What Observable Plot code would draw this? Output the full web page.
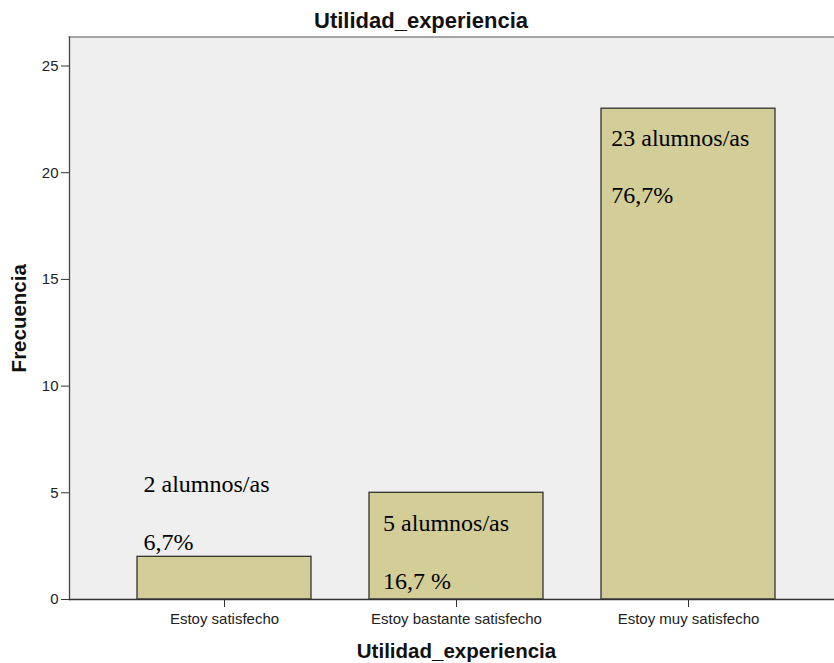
<!DOCTYPE html>
<html>
<head>
<meta charset="utf-8">
<script src="https://cdn.jsdelivr.net/npm/d3@7"></script>
<script src="https://cdn.jsdelivr.net/npm/@observablehq/plot@0.6"></script>
<style>
  html, body { margin: 0; padding: 0; background: #fff; }
  body { position: relative; width: 834px; height: 663px; overflow: hidden; }
  #title { position: absolute; left: 8px; width: 826px; top: 9px; line-height: 24px; text-align: center;
    font-family: Arial, "Liberation Sans", sans-serif; font-weight: bold; font-size: 22px; color: #111; }
  #chart { position: absolute; left: 0; top: 35px; }
</style>
</head>
<body>
<div id="title"></div>
<div id="chart"></div>
<script>
const chartTitle = "Utilidad_experiencia";
const xTitle = "Utilidad_experiencia";
const yTitle = "Frecuencia";
const categories = ["Estoy satisfecho", "Estoy bastante satisfecho", "Estoy muy satisfecho"];
const frequencies = [2, 5, 23];
const yTicks = [0, 5, 10, 15, 20, 25];
// annotation text boxes (category, text, vertical position in frequency units)
const annotCategory = ["Estoy satisfecho", "Estoy satisfecho", "Estoy bastante satisfecho", "Estoy bastante satisfecho", "Estoy muy satisfecho", "Estoy muy satisfecho"];
const annotText = ["2 alumnos/as", "6,7%", "5 alumnos/as", "16,7 %", "23 alumnos/as", "76,7%"];
const annotValue = [5.03, 2.33, 3.19, 0.47, 21.25, 18.6];

document.getElementById("title").textContent = chartTitle;

const bars = categories.map((c, i) => ({category: c, value: frequencies[i]}));
const annots = annotText.map((t, i) => ({category: annotCategory[i], text: t, value: annotValue[i]}));

const sans = "Arial, 'Liberation Sans', sans-serif";
const serif = "'Times New Roman', 'Liberation Serif', serif";

const annotMark = (cat, dx) => Plot.text(annots.filter(d => d.category === cat), {
  x: "category", y: "value", text: "text", dx, textAnchor: "start", lineAnchor: "bottom",
  fontFamily: serif, fontSize: 24, fill: "#000"
});

const plot = Plot.plot({
  width: 834,
  height: 628,
  marginLeft: 69,
  marginRight: 0,
  marginTop: 1.5,
  marginBottom: 64,
  style: {fontFamily: sans, background: "transparent", overflow: "visible"},
  x: {domain: categories, range: [108.1, 804.9], paddingInner: 0.249, paddingOuter: 0.1245, label: null},
  y: {domain: [0, 26.36], label: null},
  marks: [
    Plot.frame({fill: "#efefef", stroke: null}),
    Plot.barY(bars, {x: "category", y: "value", fill: "#d3ce98", stroke: "#333", strokeWidth: 1.3}),
    Plot.frame({anchor: "top", stroke: "#8a8a8a", strokeWidth: 1.6}),
    Plot.frame({anchor: "left", stroke: "#444", strokeWidth: 1.3}),
    Plot.frame({anchor: "bottom", stroke: "#333", strokeWidth: 1.3}),
    Plot.axisY({ticks: yTicks, tickSize: 8, tickPadding: 3, fontSize: 15, fill: "#222", stroke: "#333", label: null}),
    Plot.axisX({tickSize: 8, tickPadding: 6, fontSize: 15, fill: "#222", stroke: "#333", label: null}),
    annotMark(categories[0], -81),
    annotMark(categories[1], -73.4),
    annotMark(categories[2], -77.2),
    Plot.text([xTitle], {frameAnchor: "bottom", dx: 4.5, dy: 58, text: d => d, lineAnchor: "bottom", textAnchor: "middle",
      fontFamily: sans, fontWeight: "bold", fontSize: 20.5, fill: "#111"}),
    Plot.text([yTitle], {frameAnchor: "left", dx: -44, rotate: -90, text: d => d, lineAnchor: "bottom", textAnchor: "middle",
      fontFamily: sans, fontWeight: "bold", fontSize: 20.5, fill: "#111"})
  ]
});
document.getElementById("chart").appendChild(plot);
</script>
</body>
</html>
